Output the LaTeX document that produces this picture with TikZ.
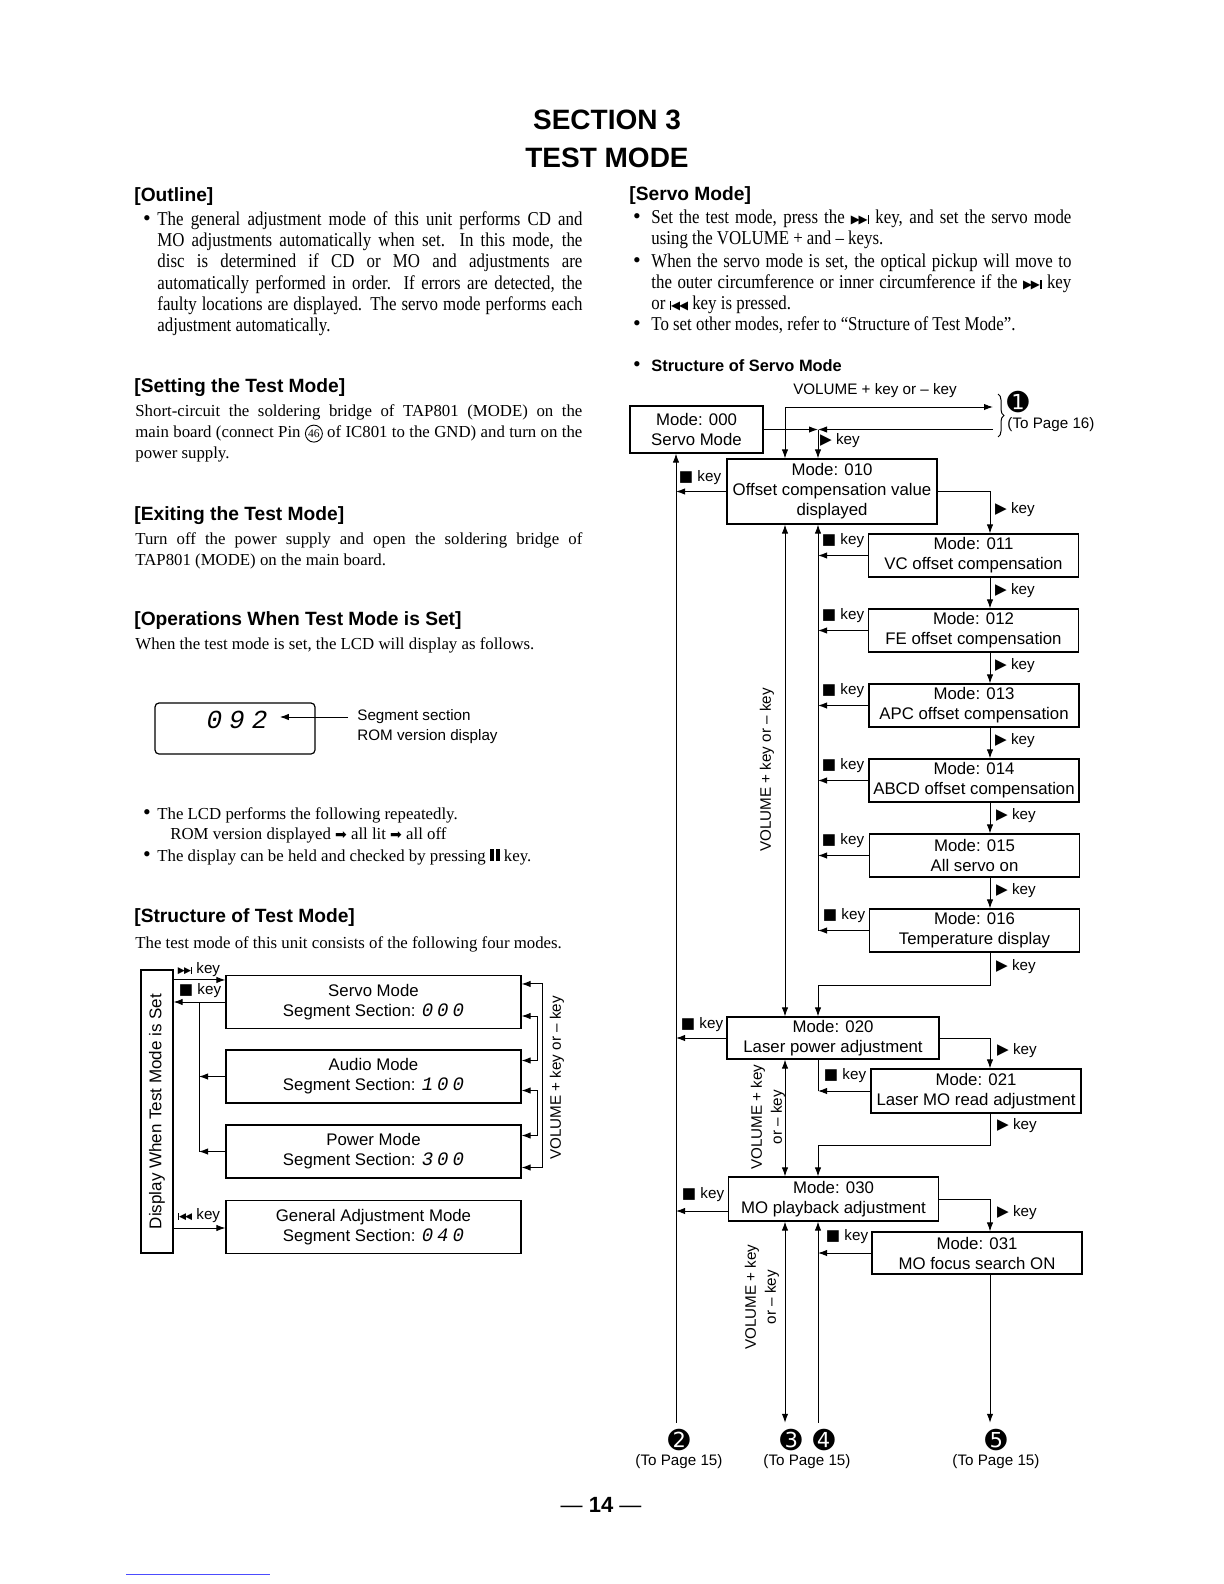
\documentclass[tikz,border=0pt]{standalone}
\usepackage{fontspec}
\usepackage{graphicx}
\setmainfont{Liberation Serif}
\setsansfont{Liberation Sans}
\newfontfamily\symfont{DejaVu Sans}
\newfontfamily\segfont{Liberation Mono}
\newfontfamily\narrowfont[FakeStretch=0.86]{Liberation Serif}
\usetikzlibrary{positioning,arrows.meta,calc,decorations.pathreplacing}

\newcommand{\stopkey}{{\symfont ■}}
\newcommand{\playkey}{{\symfont ▶}}
\newcommand{\nextkey}{\mbox{\symfont\scalebox{.6}{▶\kern-.1em▶\kern-.02em\rule{.15em}{.76em}}}}
\newcommand{\prevkey}{\mbox{\symfont\scalebox{.6}{\rule{.15em}{.76em}\kern-.02em◀\kern-.1em◀}}}
\newcommand{\pausekey}{\rule{.24em}{.74em}\kern.14em\rule{.2em}{.74em}}
\newcommand{\pinnum}[1]{\tikz[baseline=(pn.base)]\node[draw, circle, inner sep=.5pt, minimum size=8.5pt, line width=.45pt, font=\fontsize{5.8}{6}\selectfont] (pn) {#1};}
\newcommand{\segnum}[3]{{\segfont\itshape\fontsize{9.5}{10}\selectfont #1\kern2pt#2\kern2pt#3}}

\begin{document}
\begin{tikzpicture}[x=0.5pt,y=-0.5pt,
  modebox/.style={draw, line width=.55pt, minimum width=105pt, minimum height=21.5pt, inner sep=1pt, align=center, font=\sffamily\fontsize{8.4}{10}\selectfont},
  tbox/.style={modebox, minimum width=147.5pt, minimum height=26.5pt},
  keytxt/.style={inner sep=0pt, font=\sffamily\fontsize{7.6}{10}\selectfont},
  head/.style={anchor=west, inner sep=0pt, font=\sffamily\bfseries\fontsize{9.6}{11}\selectfont},
  title/.style={inner sep=0pt, font=\sffamily\bfseries\fontsize{14}{16}\selectfont},
  body/.style={anchor=base west, inner sep=0pt, font=\fontsize{8.4}{10.7}\selectfont},
  para/.style={body, text width=#1, align=justify},
  narrow/.style={anchor=base west, inner sep=0pt, text width=#1, align=justify, font=\narrowfont\fontsize{9.8}{10.6}\selectfont},
  bul/.style={inner sep=0pt, font=\fontsize{11}{12}\selectfont},
  dot/.style={inner sep=0pt, font=\symfont\fontsize{13}{13}\selectfont},
  wire/.style={line width=.5pt},
  tip/.style={wire, -{Latex[length=4.5pt,width=3.2pt]}},
  tips/.style={wire, {Latex[length=4.5pt,width=3.2pt]}-{Latex[length=4.5pt,width=3.2pt]}}]
\fill[white] (0,0) rectangle (1224,1584);
\useasboundingbox (0,0) rectangle (1224,1584);

% title
\node[title] (sec) at (607,120) {SECTION 3};
\node[title] (tmode) at (607,158) {TEST MODE};

% left column
\node[head] (h-outline) at (134,197) {[Outline]};
\node[bul] at (147,221) {•};
\node[narrow=212.5pt] (outline) at (157,225.5) {The general adjustment mode of this unit performs CD and\linebreak MO adjustments automatically when set. In this mode, the\linebreak disc is determined if CD or MO and adjustments are\linebreak automatically performed in order. If errors are detected, the\linebreak faulty locations are displayed. The servo mode performs each\linebreak adjustment automatically.};

\node[head] (h-setting) at (134,388) {[Setting the Test Mode]};
\node[para=223.5pt] (setting) at (135,416) {Short-circuit the soldering bridge of TAP801 (MODE) on the\linebreak main board (connect Pin \pinnum{46} of IC801 to the GND) and turn on the\linebreak power supply.};

\node[head] (h-exiting) at (134,516) {[Exiting the Test Mode]};
\node[para=223.5pt] (exiting) at (135,544) {Turn off the power supply and open the soldering bridge of\linebreak TAP801 (MODE) on the main board.};

\node[head] (h-oper) at (134,621) {[Operations When Test Mode is Set]};
\node[body] (oper) at (135,649) {When the test mode is set, the LCD will display as follows.};

% LCD
\node[draw, line width=.6pt, rounded corners=2pt, minimum width=80pt, minimum height=25.5pt] (lcd) at (235,728.5) {};
\node[inner sep=0pt, font=\segfont\itshape\fontsize{13}{13}\selectfont] (lcddig) at (237,720) {0\kern3.5pt9\kern3.5pt2};
\node[keytxt, anchor=west] (seglbl) at (357,717) {Segment section};
\node[keytxt, anchor=west] (romlbl) at (357,737) {ROM version display};
\draw[tip, shorten <=4.5pt, shorten >=6pt] (seglbl.west) -- (seglbl.west -| lcddig.east);

\node[bul] at (147,815) {•};
\node[body] (lcd1) at (157,819) {The LCD performs the following repeatedly.};
\node[body] (lcd2) at (170,839) {ROM version displayed {\symfont\fontsize{7}{8}\selectfont ➡} all lit {\symfont\fontsize{7}{8}\selectfont ➡} all off};
\node[bul] at (147,857) {•};
\node[body] (lcd3) at (157,861) {The display can be held and checked by pressing \pausekey{} key.};

\node[head] (h-struct) at (134,918) {[Structure of Test Mode]};
\node[body] (struct) at (135,948) {The test mode of this unit consists of the following four modes.};

% structure of test mode
\node[draw, line width=.55pt, minimum width=16pt, minimum height=141.5pt, inner sep=0pt] (disp) at (157,1111.5) {};
\node[rotate=90, inner sep=0pt, font=\sffamily\fontsize{8.5}{10}\selectfont] at (disp.center) {Display When Test Mode is Set};
\node[tbox] (sv) at (373.5,1002) {Servo Mode\\Segment Section: \segnum000};
\node[tbox] (au) at (373.5,1076.5) {Audio Mode\\Segment Section: \segnum100};
\node[tbox] (pw) at (373.5,1151.5) {Power Mode\\Segment Section: \segnum300};
\node[tbox] (ga) at (373.5,1227) {General Adjustment Mode\\Segment Section: \segnum040};

\coordinate (tbus) at (199,1002);
\coordinate (svin) at ([yshift=-2.5pt]sv.north west);
\coordinate (gain) at ([yshift=-.5pt]ga.west);
\draw[tip] (svin -| disp.east) -- (svin);
\draw[tip] (sv.west) -- (sv.west -| disp.east);
\draw[wire] (sv.west -| tbus) -- (pw.west -| tbus);
\draw[tip] (au.west) -- (au.west -| tbus);
\draw[tip] (pw.west) -- (pw.west -| tbus);
\draw[tip] (gain -| disp.east) -- (gain);
\node[keytxt] at (199,970) {\nextkey\ key};
\node[keytxt] at (200,991) {\stopkey\ key};
\node[keytxt] at (199,1216) {\prevkey\ key};

\coordinate (vout) at (542,0);
\coordinate (vin) at (537,0);
\coordinate (sv1) at ([yshift=-4.5pt]sv.north east);
\coordinate (sv2) at ([yshift=-7pt]sv.east);
\coordinate (au1) at ([yshift=8pt]au.east);
\coordinate (au2) at ([yshift=-7pt]au.east);
\coordinate (pw1) at ([yshift=8pt]pw.east);
\coordinate (pw2) at ([yshift=-8pt]pw.east);
\draw[tips] (sv1) -- (sv1 -| vout) -- (pw2 -| vout) -- (pw2);
\draw[tips] (sv2) -- (sv2 -| vin) -- (au1 -| vin) -- (au1);
\draw[tips] (au2) -- (au2 -| vin) -- (pw1 -| vin) -- (pw1);
\node[keytxt, rotate=90] at (557,1078) {VOLUME + key or – key};

% right column
\node[head] (h-servo) at (629,196) {[Servo Mode]};
\node[bul] at (637,219) {•};
\node[narrow=210pt] (servo1) at (651,223.5) {Set the test mode, press the \nextkey{} key, and set the servo mode\linebreak using the VOLUME + and – keys.};
\node[bul] at (637,263) {•};
\node[narrow=210pt] (servo2) at (651,267.5) {When the servo mode is set, the optical pickup will move to\linebreak the outer circumference or inner circumference if the \nextkey{} key\linebreak or \prevkey{} key is pressed.};
\node[bul] at (637,326) {•};
\node[narrow=210pt] (servo3) at (651,330.5) {To set other modes, refer to “Structure of Test Mode”.};

\node[bul] at (637,367) {•};
\node[inner sep=0pt, anchor=west, font=\sffamily\bfseries\fontsize{8.2}{10}\selectfont] (h-sstruct) at (651,366) {Structure of Servo Mode};

% structure of servo mode
\node[modebox, minimum width=66.5pt, minimum height=23.5pt] (m000) at (696.5,429.5) {Mode: 000\\Servo Mode};
\node[modebox, minimum height=32.5pt] (m010) at (832,491.5) {Mode: 010\\Offset compensation value\\displayed};
\node[modebox] (m011) at (973.5,555.5) {Mode: 011\\VC offset compensation};
\node[modebox] (m012) at (973.5,630.5) {Mode: 012\\FE offset compensation};
\node[modebox] (m013) at (974,705.5) {Mode: 013\\APC offset compensation};
\node[modebox] (m014) at (974,780.5) {Mode: 014\\ABCD offset compensation};
\node[modebox] (m015) at (974.5,855.5) {Mode: 015\\All servo on};
\node[modebox] (m016) at (974.5,930.5) {Mode: 016\\Temperature display};
\node[modebox, minimum width=106pt, minimum height=21pt] (m020) at (833,1038) {Mode: 020\\Laser power adjustment};
\node[modebox, minimum height=22pt] (m021) at (976,1091) {Mode: 021\\Laser MO read adjustment};
\node[modebox, minimum height=22pt] (m030) at (833.5,1199) {Mode: 030\\MO playback adjustment};
\node[modebox, minimum height=21pt] (m031) at (977,1253) {Mode: 031\\MO focus search ON};

\node[dot] (c1) at (1018,402) {➊};
\node[keytxt] (pg16) at (1051,425) {(To Page 16)};
\node[dot] (c2) at (679,1440) {➋};
\node[dot] (c3) at (791,1440) {➌};
\node[dot] (c4) at (824,1440) {➍};
\node[dot] (c5) at (996,1440) {➎};
\node[keytxt] (pg15a) at (679,1462) {(To Page 15)};
\node[keytxt] (pg15b) at (807,1462) {(To Page 15)};
\node[keytxt] (pg15c) at (996,1462) {(To Page 15)};

\coordinate (busL) at (676,0);
\coordinate (busV) at (785,0);
\coordinate (busK) at (818,0);
\coordinate (busR) at (990,0);
\coordinate (topend) at (993,407);
\coordinate (midend) at (993,429.5);
\coordinate (j1) at (818,985);
\coordinate (j2) at (818,1145);
\coordinate (m030out) at ([yshift=-6pt]m030.west);

% top part
\node[keytxt] (voltop) at (875,391) {VOLUME + key or – key};
\draw[tips] (m010.north -| busV) |- (topend);
\draw[tip] (m000.east) -- (m000.east -| busK);
\draw[tip] (midend) -- (m000.east -| busK);
\draw[tip] (m000.east -| busK) -- (m010.north -| busK);
\node[keytxt] at (840,441) {\playkey\ key};
\draw[wire, decorate, decoration={brace, amplitude=3pt}] (998,394) -- (998,437);

% mode 01x
\draw[tip] (m010.west) -- (m010.west -| busL);
\node[keytxt] at (700,478) {\stopkey\ key};
\draw[tip] (m010.east) -| (m011.north -| busR);
\node[keytxt] at (1015,510) {\playkey\ key};
\draw[tip] (m011.south -| busR) -- (m012.north -| busR);
\node[keytxt] at (1015,591) {\playkey\ key};
\draw[tip] (m012.south -| busR) -- (m013.north -| busR);
\node[keytxt] at (1015,666) {\playkey\ key};
\draw[tip] (m013.south -| busR) -- (m014.north -| busR);
\node[keytxt] at (1015,741) {\playkey\ key};
\draw[tip] (m014.south -| busR) -- (m015.north -| busR);
\node[keytxt] at (1016,816) {\playkey\ key};
\draw[tip] (m015.south -| busR) -- (m016.north -| busR);
\node[keytxt] at (1016,891) {\playkey\ key};
\draw[tip] (m016.south -| busR) |- (j1) -- (m020.north -| busK);
\node[keytxt] at (1016,967) {\playkey\ key};

\draw[tip] (m011.west) -- (m011.west -| busK);
\node[keytxt] at (843,541) {\stopkey\ key};
\draw[tip] (m012.west) -- (m012.west -| busK);
\node[keytxt] at (843,616) {\stopkey\ key};
\draw[tip] (m013.west) -- (m013.west -| busK);
\node[keytxt] at (843,691) {\stopkey\ key};
\draw[tip] (m014.west) -- (m014.west -| busK);
\node[keytxt] at (843,766) {\stopkey\ key};
\draw[tip] (m015.west) -- (m015.west -| busK);
\node[keytxt] at (843,841) {\stopkey\ key};
\draw[tip] (m016.west) -- (m016.west -| busK);
\node[keytxt] at (844,916) {\stopkey\ key};
\draw[tip] (m016.west -| busK) -- (m010.south -| busK);

\draw[tips] (m010.south -| busV) -- (m020.north -| busV);
\node[keytxt, rotate=90] at (767,770) {VOLUME + key or – key};

% mode 02x
\draw[tip] (m020.west) -- (m020.west -| busL);
\node[keytxt] at (702,1025) {\stopkey\ key};
\draw[tip] (m020.east) -| (m021.north -| busR);
\node[keytxt] at (1017,1051) {\playkey\ key};
\draw[wire] (m020.south -| busK) -- (m021.west -| busK);
\draw[tip] (m021.west) -- (m021.west -| busK);
\node[keytxt] at (845,1076) {\stopkey\ key};
\draw[tip] (m021.south -| busR) |- (j2) -- (m030.north -| busK);
\node[keytxt] at (1017,1126) {\playkey\ key};
\draw[tips] (m020.south -| busV) -- (m030.north -| busV);
\node[keytxt, rotate=90, align=center] at (768,1117) {VOLUME + key\\or – key};

% mode 03x
\draw[tip] (m030out) -- (m030out -| busL);
\node[keytxt] at (703,1195) {\stopkey\ key};
\draw[tip] (m030.east) -| (m031.north -| busR);
\node[keytxt] at (1017,1213) {\playkey\ key};
\draw[tip] (m031.west) -- (m031.west -| busK);
\node[keytxt] at (847,1237) {\stopkey\ key};
\node[keytxt, rotate=90, align=center] at (762,1297) {VOLUME + key\\or – key};

% exits
\draw[tip, shorten <=3pt] (c2.north -| busL) -- (m000.south -| busL);
\draw[tips, shorten >=3pt] (m030.south -| busV) -- (c3.north -| busV);
\draw[tip, shorten <=3pt] (c4.north -| busK) -- (m030.south -| busK);
\draw[tip, shorten >=3pt] (m031.south -| busR) -- (c5.north -| busR);

% page number
\node[inner sep=0pt, font=\sffamily\fontsize{11}{12}\selectfont] (pgnum) at (601,1505) {— \textbf{14} —};
\draw[blue!70, line width=.4pt] (126,1574) -- (270,1574);
\end{tikzpicture}
\end{document}
